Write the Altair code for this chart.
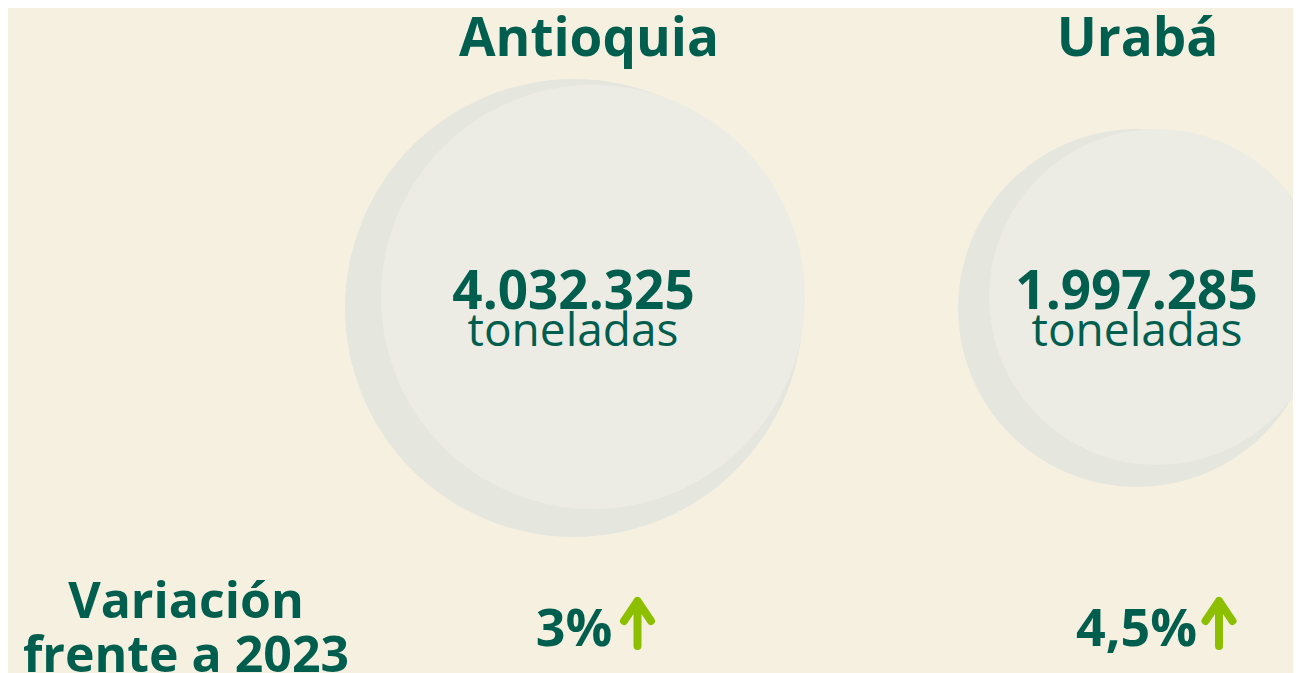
import altair as alt
import pandas as pd

# ---- data ----
regions = ["Antioquia", "Urabá"]
tonnes = [4032325, 1997285]
tonnes_labels = ["4.032.325", "1.997.285"]
unit_labels = ["toneladas", "toneladas"]
variation_labels = ["3%", "4,5%"]
side_label = ["Variación", "frente a 2023"]

df = pd.DataFrame({
    "region": regions,
    "tonnes": tonnes,
    "tonnes_label": tonnes_labels,
    "unit": unit_labels,
    "variation": variation_labels,
})

BG = "#F6F0E1"
GREEN = "#005E4E"
ARROW = "#8CBF00"
SHADOW = "#E5E6DE"
DISC = "#EDECE4"
FONT = "Open Sans"

W, H = 1285, 665


def xenc(rng):
    return alt.X(
        "region:N",
        sort=regions,
        scale=alt.Scale(type="point", domain=regions, range=rng, padding=0),
        axis=None,
    )


def size_enc(rng):
    return alt.Size(
        "tonnes:Q",
        scale=alt.Scale(domain=[min(tonnes), max(tonnes)], range=rng),
        legend=None,
    )


base = alt.Chart(df)

shadow = base.mark_point(
    shape="circle", filled=True, opacity=1, color=SHADOW, strokeWidth=0
).encode(x=xenc([566, 1129]), y=alt.value(300), size=size_enc([358 ** 2, 458 ** 2]))

disc = base.mark_point(
    shape="circle", filled=True, opacity=1, color=DISC, strokeWidth=0
).encode(x=xenc([585, 1149]), y=alt.value(289), size=size_enc([336 ** 2, 424 ** 2]))

numbers = base.mark_text(
    font=FONT, fontSize=53, fontWeight="bold", color=GREEN,
    align="center", baseline="alphabetic",
).encode(x=xenc([565.5, 1128.5]), y=alt.value(301), text="tonnes_label:N")

units = base.mark_text(
    font=FONT, fontSize=46, fontWeight="normal", color=GREEN,
    align="center", baseline="alphabetic",
).encode(x=xenc([565, 1129]), y=alt.value(338), text="unit:N")

titles = base.mark_text(
    font=FONT, fontSize=53, fontWeight="bold", color=GREEN,
    align="center", baseline="alphabetic",
).encode(x=xenc([581, 1129.5]), y=alt.value(48), text="region:N")

variation = base.mark_text(
    font=FONT, fontSize=52, fontWeight="bold", color=GREEN,
    align="center", baseline="alphabetic",
).encode(x=xenc([566, 1128.5]), y=alt.value(638), text="variation:N")

arrow_path = "M0,1L0,-1M-0.6,-0.11L0,-1L0.6,-0.11"
arrows = base.mark_point(
    shape=arrow_path, filled=False, opacity=1, stroke=ARROW, strokeWidth=8,
    strokeCap="round", strokeJoin="round", size=2025,
).encode(x=xenc([629.5, 1211]), y=alt.value(615.5))

side = alt.Chart(alt.Data(values=[{}])).mark_text(
    text=side_label, font=FONT, fontSize=50, fontWeight="bold", color=GREEN,
    align="center", baseline="alphabetic", lineHeight=54,
).encode(x=alt.value(178), y=alt.value(610))

chart = (
    alt.layer(shadow, disc, numbers, units, titles, variation, arrows, side)
    .resolve_scale(x="independent", size="independent")
    .properties(width=W, height=H, background=BG, padding=0, autosize="none")
    .configure_view(strokeWidth=0)
)

chart.save("out.html", embed_options={"renderer": "svg", "actions": False})
